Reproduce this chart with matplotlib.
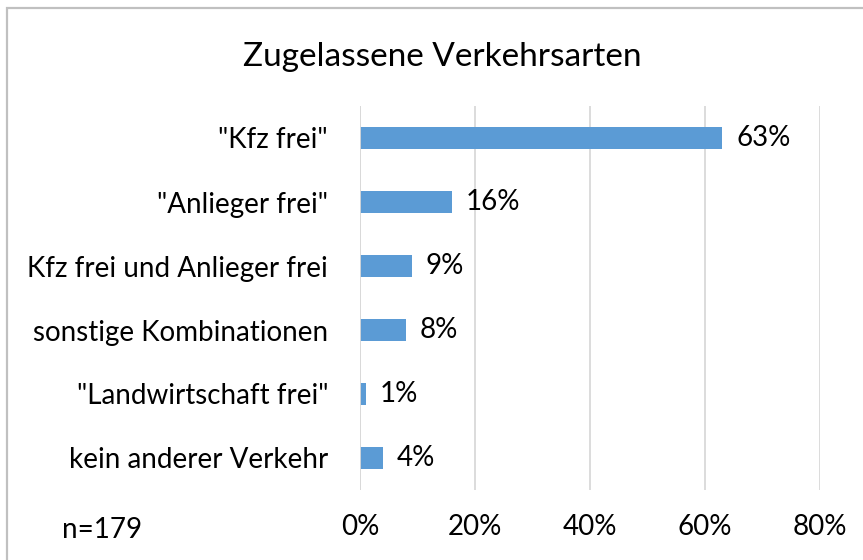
import matplotlib
matplotlib.use("Agg")
import matplotlib.pyplot as plt
from matplotlib.patches import Rectangle

categories = [
    '"Kfz frei"',
    '"Anlieger frei"',
    "Kfz frei und Anlieger frei",
    "sonstige Kombinationen",
    '"Landwirtschaft frei"',
    "kein anderer Verkehr",
]
shares = [0.63, 0.16, 0.09, 0.08, 0.01, 0.04]
value_labels = ["63%", "16%", "9%", "8%", "1%", "4%"]
xticks = [0.0, 0.2, 0.4, 0.6, 0.8]
xtick_labels = ["0%", "20%", "40%", "60%", "80%"]

plt.rcParams["font.family"] = ["Lato", "DejaVu Sans"]

W, H = 863, 560
fig = plt.figure(figsize=(W / 100, H / 100), dpi=100)
fig.patch.set_facecolor("white")

# plot area in pixels: x 360..820, y 106..490
ax = fig.add_axes([360 / W, 1 - 490 / H, 460 / W, 384 / H])
ypos = list(range(len(categories)))
ax.barh(ypos, shares, height=0.34, color="#5b9bd5", zorder=3)
ax.set_xlim(0, 0.8)
ax.set_ylim(len(categories) - 0.5, -0.5)

ax.set_xticks(xticks)
ax.set_xticklabels(xtick_labels)
ax.set_yticks(ypos)
ax.set_yticklabels(categories)
ax.tick_params(axis="both", length=0, labelsize=20, colors="#000000")
ax.tick_params(axis="y", pad=23)
ax.tick_params(axis="x", pad=17)

ax.grid(axis="x", color="#d9d9d9", linewidth=1.3, zorder=0)
for side in ["top", "right", "bottom", "left"]:
    ax.spines[side].set_visible(False)
ax.axvline(0, color="#d9d9d9", linewidth=1.3, zorder=4)

for y, v, lab in zip(ypos, shares, value_labels):
    ax.annotate(lab, (v, y), xytext=(14, 0), textcoords="offset pixels",
                va="center", ha="left", fontsize=20)

fig.text(442 / W, 1 - 57 / H, "Zugelassene Verkehrsarten", ha="center", va="center", fontsize=24)
fig.text(62 / W, 1 - 530 / H, "n=179", ha="left", va="center", fontsize=20)

# chart frame (only top and left edges visible in the crop)
fig.add_artist(Rectangle((7 / W, -0.1), 1.2, 1 - 8 / H + 0.1, transform=fig.transFigure,
                         fill=False, edgecolor="#c0c0c0", linewidth=1.6))

fig.savefig("out.png", dpi=100)
